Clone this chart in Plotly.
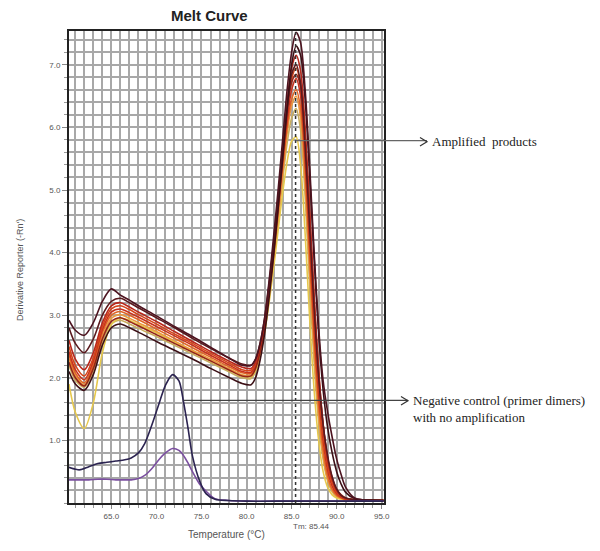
import plotly.graph_objects as go

# ---------------- data ----------------
temps = [60.3, 61, 62, 63, 64, 65, 66, 67, 68, 70, 72, 74, 76, 78, 79.5, 80.5,
         81, 81.5, 82, 82.5, 83, 83.5, 84, 84.5, 85, 85.5, 86, 86.5, 87, 87.5,
         88, 88.5, 89, 89.5, 90, 90.5, 91, 92, 93, 95.2]

curve_a = [2.92, 2.76, 2.68, 2.88, 3.22, 3.42, 3.32, 3.24, 3.15, 2.99, 2.82, 2.66, 2.49, 2.32, 2.20, 2.20,
           2.30, 2.55, 2.95, 3.55, 4.25, 5.00, 5.80, 6.60, 7.20, 7.52, 7.35, 6.60, 5.40, 4.00,
           2.80, 1.95, 1.45, 1.05, 0.70, 0.45, 0.25, 0.08, 0.05, 0.04]
curve_b = [2.80, 2.55, 2.40, 2.62, 3.00, 3.22, 3.27, 3.20, 3.12, 2.96, 2.80, 2.63, 2.47, 2.32, 2.22, 2.20,
           2.30, 2.55, 2.95, 3.50, 4.15, 4.85, 5.60, 6.30, 6.85, 7.00, 6.70, 5.70, 4.40, 3.10,
           2.00, 1.25, 0.75, 0.42, 0.22, 0.12, 0.08, 0.05, 0.04, 0.04]
curve_c = [2.60, 2.30, 2.13, 2.40, 2.88, 3.15, 3.20, 3.13, 3.05, 2.90, 2.74, 2.58, 2.42, 2.27, 2.17, 2.15,
           2.25, 2.50, 2.90, 3.45, 4.10, 4.85, 5.65, 6.40, 6.95, 7.15, 6.90, 6.00, 4.70, 3.30,
           2.10, 1.25, 0.70, 0.38, 0.20, 0.11, 0.07, 0.05, 0.04, 0.04]
curve_d = [2.50, 2.20, 2.03, 2.32, 2.82, 3.10, 3.15, 3.09, 3.01, 2.86, 2.70, 2.55, 2.39, 2.24, 2.13, 2.12,
           2.22, 2.47, 2.85, 3.40, 4.05, 4.80, 5.55, 6.25, 6.78, 6.95, 6.65, 5.70, 4.35, 3.00,
           1.90, 1.10, 0.60, 0.32, 0.17, 0.10, 0.07, 0.05, 0.04, 0.04]
curve_e = [2.42, 2.13, 1.97, 2.27, 2.77, 3.05, 3.10, 3.04, 2.97, 2.82, 2.67, 2.52, 2.36, 2.21, 2.10, 2.09,
           2.20, 2.45, 2.85, 3.38, 4.00, 4.70, 5.45, 6.10, 6.60, 6.78, 6.50, 5.50, 4.15, 2.80,
           1.75, 1.00, 0.52, 0.27, 0.15, 0.09, 0.06, 0.05, 0.04, 0.04]
curve_f = [2.36, 2.08, 1.92, 2.22, 2.72, 3.00, 3.06, 3.00, 2.93, 2.78, 2.63, 2.48, 2.33, 2.18, 2.08, 2.07,
           2.18, 2.42, 2.82, 3.35, 3.95, 4.65, 5.35, 6.00, 6.45, 6.60, 6.30, 5.30, 3.90, 2.60,
           1.55, 0.85, 0.43, 0.22, 0.12, 0.08, 0.06, 0.05, 0.04, 0.04]
curve_g = [2.30, 2.04, 1.89, 2.18, 2.66, 2.95, 3.01, 2.95, 2.88, 2.74, 2.59, 2.44, 2.30, 2.15, 2.05, 2.04,
           2.15, 2.40, 2.78, 3.30, 3.90, 4.55, 5.25, 5.90, 6.35, 6.50, 6.15, 5.10, 3.70, 2.40,
           1.40, 0.75, 0.38, 0.20, 0.11, 0.07, 0.05, 0.04, 0.04, 0.04]
curve_h = [2.25, 2.00, 1.87, 2.15, 2.62, 2.90, 2.96, 2.90, 2.83, 2.69, 2.55, 2.41, 2.27, 2.13, 2.03, 2.03,
           2.15, 2.42, 2.82, 3.38, 4.02, 4.75, 5.50, 6.25, 6.72, 6.85, 6.65, 5.85, 4.60, 3.25,
           2.10, 1.25, 0.72, 0.40, 0.22, 0.13, 0.08, 0.05, 0.04, 0.04]
curve_i = [2.20, 1.96, 1.85, 2.10, 2.57, 2.86, 2.92, 2.86, 2.79, 2.66, 2.52, 2.38, 2.24, 2.10, 2.00, 1.99,
           2.10, 2.36, 2.74, 3.25, 3.85, 4.50, 5.15, 5.75, 6.15, 6.30, 5.95, 4.90, 3.50, 2.25,
           1.30, 0.70, 0.35, 0.18, 0.10, 0.07, 0.05, 0.04, 0.04, 0.04]
curve_j = [2.10, 1.90, 1.80, 2.05, 2.52, 2.80, 2.86, 2.80, 2.73, 2.58, 2.44, 2.30, 2.15, 2.01, 1.91, 1.89,
           2.00, 2.28, 2.70, 3.28, 3.95, 4.70, 5.50, 6.30, 7.00, 7.30, 7.15, 6.45, 5.25, 3.90,
           2.70, 1.80, 1.20, 0.80, 0.50, 0.30, 0.17, 0.07, 0.05, 0.04]
curve_k = [1.90, 1.45, 1.19, 1.60, 2.40, 2.85, 2.95, 2.92, 2.85, 2.72, 2.57, 2.42, 2.27, 2.13, 2.03, 2.02,
           2.12, 2.35, 2.72, 3.20, 3.75, 4.35, 4.95, 5.45, 5.78, 5.85, 5.40, 4.30, 2.95, 1.80,
           1.00, 0.50, 0.25, 0.13, 0.08, 0.06, 0.05, 0.04, 0.04, 0.04]

amplified = [curve_i, curve_k, curve_g, curve_f, curve_e, curve_d, curve_h, curve_c, curve_b, curve_j, curve_a]
amplified_colors = ["#c9ad5e", "#e6c84c", "#eb9a40", "#e06626", "#c8321e", "#d4451a",
                    "#962418", "#b8281c", "#5a1a1e", "#3c1016", "#4d1420"]

neg_temps = [60.3, 61, 61.5, 62.5, 63.5, 64.5, 65.5, 66.5, 67.2, 68, 68.7, 69.5, 70.2, 71, 71.8,
             72.5, 73, 73.5, 74, 74.8, 75.5, 76.5, 78, 80, 85, 90, 95.2]
neg_navy = [0.57, 0.54, 0.53, 0.58, 0.63, 0.65, 0.67, 0.69, 0.72, 0.80, 0.95, 1.25, 1.55, 1.88, 2.05,
            1.95, 1.62, 1.20, 0.75, 0.35, 0.15, 0.06, 0.04, 0.03, 0.03, 0.03, 0.03]
neg_purple = [0.37, 0.37, 0.37, 0.37, 0.38, 0.38, 0.37, 0.37, 0.37, 0.39, 0.44, 0.55, 0.68, 0.80, 0.87,
              0.84, 0.76, 0.64, 0.50, 0.30, 0.19, 0.07, 0.04, 0.03, 0.03, 0.03, 0.03]

x_tickvals = [65, 70, 75, 80, 85, 90, 95]
x_ticktext = ["65.0", "70.0", "75.0", "80.0", "85.0", "90.0", "95.0"]
y_tickvals = [1, 2, 3, 4, 5, 6, 7]
y_ticktext = ["1.0", "2.0", "3.0", "4.0", "5.0", "6.0", "7.0"]

tm_value = 85.44
amplified_label_y = 5.79
negative_label_y = 1.64
negative_start_x = 73.0

# ---------------- layout geometry ----------------
# the page body has an 8px default margin, so the figure is shifted by OFF
W, H = 600, 551
OFF = 8
PL, PT, PW, PH = 69, 31, 315, 472          # plot area in screenshot pixels
ML, MT = PL - OFF, PT - OFF
MR = W - ML - PW
MB = H - MT - PH
XR = [60.3, 95.25]
YR = [0.0, 7.54]


def px_to_paper_x(px):
    return (px - PL) / PW


def px_to_paper_y(py):
    return (PT + PH - py) / PH


def data_to_paper_x(t):
    return (t - XR[0]) / (XR[1] - XR[0])


fig = go.Figure()

for vals, col in zip(amplified, amplified_colors):
    fig.add_trace(go.Scatter(x=temps, y=vals, mode="lines",
                             line=dict(color=col, width=1.6, shape="spline", smoothing=0.8),
                             hoverinfo="skip"))

fig.add_trace(go.Scatter(x=neg_temps, y=neg_purple, mode="lines",
                         line=dict(color="#7b4fa0", width=1.6, shape="spline", smoothing=0.8),
                         hoverinfo="skip"))
fig.add_trace(go.Scatter(x=neg_temps, y=neg_navy, mode="lines",
                         line=dict(color="#2b2350", width=1.6, shape="spline", smoothing=0.8),
                         hoverinfo="skip"))

grid_col = "#a8a8a8"
axis_font = dict(family="Liberation Sans, Arial, sans-serif", size=8, color="#555")

fig.update_xaxes(range=XR, tickmode="array", tickvals=x_tickvals, ticktext=x_ticktext,
                 showgrid=True, gridcolor=grid_col, gridwidth=1.5,
                 ticks="outside", ticklen=4, tickcolor="#888", tickfont=axis_font,
                 minor=dict(tickmode="linear", tick0=0, dtick=1, showgrid=True, gridcolor=grid_col,
                            gridwidth=1.5, ticks="outside", ticklen=3, tickcolor="#999"),
                 showline=True, linecolor="#222", linewidth=2, mirror=True, zeroline=False)
fig.update_yaxes(range=YR, tickmode="array", tickvals=y_tickvals, ticktext=y_ticktext,
                 showgrid=True, gridcolor=grid_col, gridwidth=1.5,
                 ticks="outside", ticklen=5, tickcolor="#888", tickfont=axis_font,
                 minor=dict(tickmode="linear", tick0=0, dtick=0.2, showgrid=True, gridcolor=grid_col,
                            gridwidth=1.5, ticks="outside", ticklen=3, tickcolor="#999"),
                 showline=True, linecolor="#222", linewidth=2, mirror=True, zeroline=False)

shapes = [
    # Tm marker line
    dict(type="line", xref="x", yref="paper", x0=tm_value, x1=tm_value, y0=0, y1=1,
         line=dict(color="#333", width=1.5, dash="dot")),
    # amplified products pointer
    dict(type="line", xref="paper", yref="y", x0=data_to_paper_x(tm_value), x1=px_to_paper_x(427),
         y0=amplified_label_y, y1=amplified_label_y, line=dict(color="#666", width=1.2)),
    dict(type="path", xref="paper", yref="paper",
         path=f"M {px_to_paper_x(420)} {px_to_paper_y(137.5)} L {px_to_paper_x(427)} {px_to_paper_y(141.7)} "
              f"L {px_to_paper_x(420)} {px_to_paper_y(146)}",
         line=dict(color="#333", width=1.2)),
    # negative control pointer
    dict(type="line", xref="paper", yref="y", x0=data_to_paper_x(negative_start_x), x1=px_to_paper_x(408),
         y0=negative_label_y, y1=negative_label_y, line=dict(color="#444", width=1.2)),
    dict(type="path", xref="paper", yref="paper",
         path=f"M {px_to_paper_x(401)} {px_to_paper_y(396.5)} L {px_to_paper_x(408)} {px_to_paper_y(400.7)} "
              f"L {px_to_paper_x(401)} {px_to_paper_y(405)}",
         line=dict(color="#333", width=1.2)),
]

serif = dict(family="Liberation Serif, Times New Roman, serif", size=13, color="#222")
annotations = [
    dict(text="<b>Melt Curve</b>", xref="paper", yref="paper", x=px_to_paper_x(209), y=px_to_paper_y(15),
         xanchor="center", yanchor="middle", showarrow=False,
         font=dict(family="Liberation Sans, Arial, sans-serif", size=15, color="#222")),
    dict(text="Derivative Reporter (-Rn')", xref="paper", yref="paper", x=px_to_paper_x(20),
         y=px_to_paper_y(270), textangle=-90, xanchor="center", yanchor="middle", showarrow=False,
         font=dict(family="Liberation Sans, Arial, sans-serif", size=9, color="#555")),
    dict(text="Temperature (°C)", xref="paper", yref="paper", x=px_to_paper_x(226), y=px_to_paper_y(534),
         xanchor="center", yanchor="middle", showarrow=False,
         font=dict(family="Liberation Sans, Arial, sans-serif", size=10, color="#555")),
    dict(text=f"Tm: {tm_value}", xref="paper", yref="paper", x=px_to_paper_x(291), y=px_to_paper_y(526),
         xanchor="left", yanchor="middle", showarrow=False,
         font=dict(family="Liberation Sans, Arial, sans-serif", size=8, color="#555")),
    dict(text="Amplified  products", xref="paper", yref="paper", x=px_to_paper_x(430), y=px_to_paper_y(141.7),
         xanchor="left", yanchor="middle", showarrow=False, font=serif),
    dict(text="Negative control (primer dimers)<br>with no amplification", xref="paper", yref="paper",
         x=px_to_paper_x(411), y=px_to_paper_y(391), xanchor="left", yanchor="top", align="left",
         showarrow=False, font=serif),
]

fig.update_layout(width=W, height=H, margin=dict(l=ML, r=MR, t=MT, b=MB),
                  paper_bgcolor="white", plot_bgcolor="white", showlegend=False,
                  shapes=shapes, annotations=annotations)

fig.write_html("out.html")
